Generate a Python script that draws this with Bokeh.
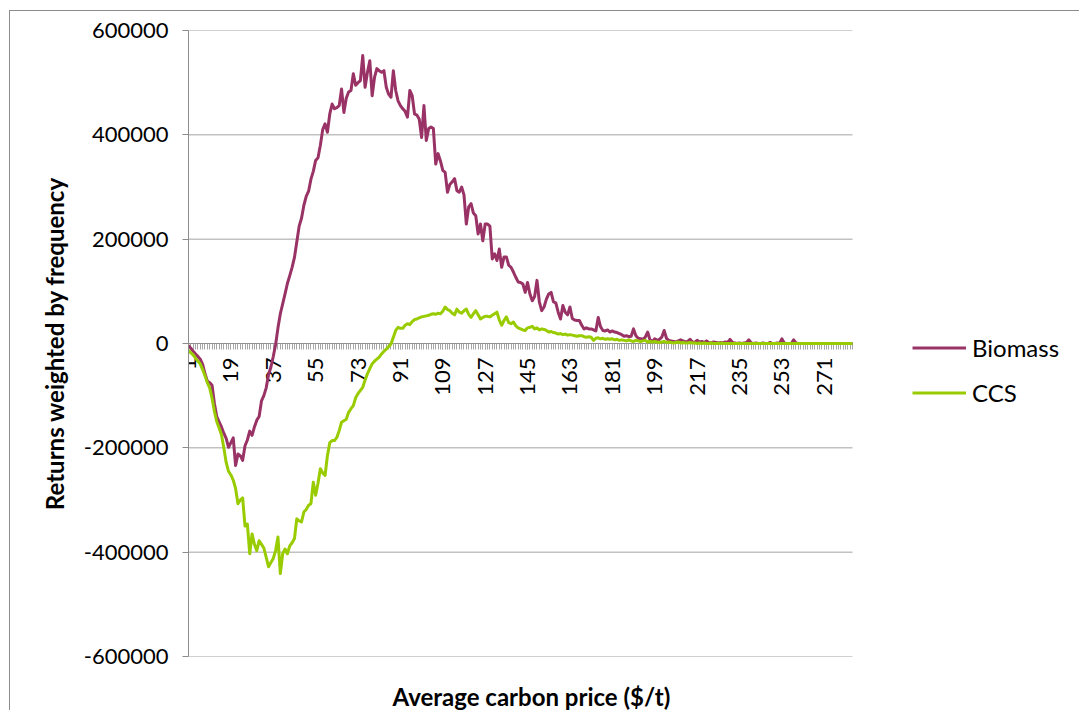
import math
from bokeh.plotting import figure
from bokeh.models import (Range1d, FixedTicker, NumeralTickFormatter, Legend,
                          LegendItem, Title, ColumnDataSource)
from bokeh.embed import file_html
from bokeh.resources import INLINE

# ---------------- data ----------------
prices = list(range(1, 284))                      # average carbon price categories ($/t)
price_labels = [1, 19, 37, 55, 73, 91, 109, 127, 145, 163, 181, 199, 217, 235, 253, 271]
y_ticks = [-600000, -400000, -200000, 0, 200000, 400000, 600000]

biomass = [
    -4000, -9000, -15000, -20000, -25000, -30000, -40000, -58000, -72000, -75000,
    -80000, -115000, -140000, -150000, -160000, -172000, -182000, -199000, -190000, -181000,
    -234000, -212000, -215000, -224000, -196000, -185000, -168000, -176000, -160000, -147000,
    -140000, -110000, -100000, -85000, -60000, -45000, -25000, -2000, 30000, 57000,
    76000, 95000, 115000, 130000, 146000, 165000, 195000, 225000, 240000, 265000,
    282000, 292000, 315000, 330000, 351000, 356000, 380000, 410000, 421000, 405000,
    440000, 459000, 450000, 452000, 456000, 488000, 443000, 470000, 482000, 485000,
    517000, 495000, 500000, 504000, 552000, 491000, 520000, 542000, 475000, 510000,
    527000, 523000, 520000, 523000, 491000, 478000, 472000, 523000, 485000, 465000,
    456000, 450000, 445000, 434000, 485000, 475000, 440000, 438000, 430000, 395000,
    456000, 389000, 412000, 415000, 412000, 344000, 364000, 350000, 332000, 328000,
    290000, 305000, 310000, 316000, 293000, 290000, 300000, 285000, 229000, 262000,
    268000, 250000, 245000, 210000, 229000, 197000, 229000, 229000, 225000, 162000,
    172000, 159000, 181000, 146000, 166000, 166000, 150000, 146000, 137000, 127000,
    118000, 117000, 114000, 98000, 117000, 95000, 82000, 90000, 121000, 80000,
    63000, 70000, 85000, 95000, 98000, 80000, 78000, 60000, 47000, 73000,
    60000, 55000, 70000, 48000, 45000, 44000, 44000, 35000, 28000, 30000,
    28000, 28000, 26000, 24000, 50000, 32000, 25000, 24000, 26000, 22000,
    24000, 22000, 21000, 19000, 17000, 14000, 15000, 13000, 14000, 28000,
    15000, 10000, 9000, 8000, 12000, 22000, 7000, 4000, 9000, 6000,
    8000, 12000, 25000, 10000, 6000, 5000, 4000, 3000, 5000, 7000,
    5000, 3000, 4000, 8000, 3000, 2000, 6000, 3000, 4000, 2000,
    5000, 2000, 1000, 3000, 2000, 1000, 2000, 1000, 3000, 2000,
    8000, 2000, 1000, 0, 1000, 0, 1000, 2000, 7000, 1000,
    0, 1000, 0, 0, 1000, 0, 0, 2000, 0, 0,
    1000, 0, 9000, 1000, 0, 0, 0, 7000, 1000, 0,
    0, 0, 0, 0, 0, 0, 0, 0, 0, 0,
    0, 0, 0, 0, 0, 0, 0, 0, 0, 0,
    0, 0, 0,
]

ccs = [
    -13000, -18000, -22000, -28000, -34000, -39000, -50000, -62000, -75000, -85000,
    -105000, -130000, -150000, -162000, -175000, -200000, -228000, -245000, -252000, -262000,
    -278000, -307000, -300000, -296000, -350000, -346000, -403000, -365000, -385000, -397000,
    -378000, -385000, -392000, -410000, -428000, -420000, -412000, -397000, -371000, -441000,
    -403000, -394000, -403000, -388000, -382000, -374000, -336000, -340000, -342000, -323000,
    -318000, -310000, -307000, -266000, -291000, -268000, -240000, -248000, -253000, -215000,
    -190000, -186000, -186000, -180000, -167000, -151000, -148000, -145000, -132000, -125000,
    -119000, -104000, -96000, -90000, -84000, -70000, -58000, -48000, -39000, -34000,
    -30000, -26000, -20000, -15000, -11000, -6000, -1000, 12000, 25000, 31000,
    29000, 29000, 35000, 38000, 36000, 42000, 46000, 47000, 49000, 51000,
    52000, 53000, 54000, 56000, 57000, 56000, 58000, 57000, 62000, 70000,
    65000, 63000, 58000, 55000, 66000, 60000, 58000, 63000, 66000, 56000,
    50000, 57000, 63000, 55000, 47000, 50000, 52000, 52000, 51000, 54000,
    57000, 60000, 45000, 35000, 44000, 51000, 40000, 38000, 41000, 34000,
    30000, 28000, 26000, 25000, 30000, 31000, 33000, 28000, 30000, 26000,
    28000, 27000, 25000, 22000, 23000, 21000, 20000, 18000, 19000, 17000,
    18000, 16000, 17000, 16000, 15000, 14000, 15000, 15000, 13000, 12000,
    13000, 12000, 6000, 10000, 11000, 9000, 10000, 8000, 9000, 8000,
    9000, 7000, 8000, 6000, 7000, 6000, 5000, 7000, 5000, 4000,
    6000, 5000, 4000, 5000, 6000, 3000, 4000, 3000, 4000, 3000,
    2000, 3000, 4000, 2000, 3000, 2000, 1000, 2000, 3000, 1000,
    2000, 1000, 1000, 2000, 1000, 1000, 0, 1000, 0, 1000,
    0, 0, 1000, 0, 0, 0, 1000, 0, 0, 0,
    0, 0, 0, 0, 0, 0, 0, 0, 0, 0,
    0, 0, 0, 0, 0, 0, 0, 0, 0, 0,
    0, 0, 0, 0, 0, 0, 0, 0, 0, 0,
    0, 0, 0, 0, 0, 0, 0, 0, 0, 0,
    0, 0, 0, 0, 0, 0, 0, 0, 0, 0,
    0, 0, 0,
]

series_names = ["Biomass", "CCS"]
series_colors = ["#993366", "#99CC00"]

# ---------------- layout ----------------
FONT = "Lato"
AXIS_GRAY = "#8c8c8c"
GRID_GRAY = "#a3a3a3"

W, H = 1070, 700
LEFT, TOP, BOTTOM = 178, 19, 55
PLOT_W = 664                     # width of the plotted category area (px)
frame_w = W - LEFT               # frame also hosts the legend on the right
x_end = prices[0] + (prices[-1] - prices[0]) * frame_w / PLOT_W

p = figure(width=W, height=H, output_backend="svg", toolbar_location=None,
           title=None,
           x_range=Range1d(prices[0], x_end),
           y_range=Range1d(y_ticks[0], y_ticks[-1]),
           min_border_left=LEFT, min_border_right=0,
           min_border_top=TOP, min_border_bottom=BOTTOM,
           background_fill_color="white", border_fill_color="white",
           margin=(10, 0, 0, 9),
           styles={"border-top": "1px solid #8c8c8c", "border-left": "1px solid #8c8c8c"})
p.outline_line_color = None
p.xgrid.visible = False
p.ygrid.visible = False

# horizontal gridlines over the category span only
p.segment(x0=[prices[0]] * len(y_ticks), x1=[prices[-1]] * len(y_ticks),
          y0=y_ticks, y1=y_ticks, line_color=GRID_GRAY, line_width=1, level="underlay")

src = ColumnDataSource(dict(price=prices, biomass=biomass, ccs=ccs))
r1 = p.line("price", "biomass", source=src, line_color=series_colors[0],
            line_width=3, line_join="round")
r2 = p.line("price", "ccs", source=src, line_color=series_colors[1],
            line_width=3, line_join="round")

# category axis crossing at y = 0
xa = p.xaxis[0]
xa.fixed_location = 0
xa.bounds = (prices[0], prices[-1])
xa.level = "underlay"
xa.ticker = FixedTicker(ticks=price_labels, minor_ticks=prices)
xa.major_label_orientation = math.pi / 2
xa.axis_line_color = AXIS_GRAY
xa.major_tick_in = 0
xa.major_tick_out = 6
xa.minor_tick_in = 0
xa.minor_tick_out = 6
xa.major_tick_line_color = "#a6a6a6"
xa.minor_tick_line_color = "#a6a6a6"
xa.major_label_text_font = FONT
xa.major_label_text_font_size = "22px"
xa.major_label_text_color = "black"
xa.major_label_standoff = 8

# blank spacer below the frame, then the x axis title
p.add_layout(Title(text=" ", text_font=FONT, text_font_size="12px", standoff=6), "below")
p.add_layout(Title(text="Average carbon price ($/t)", align="left", offset=204,
                   vertical_align="bottom", standoff=0,
                   text_font=FONT, text_font_size="24px", text_font_style="bold",
                   text_color="black"), "below")

ya = p.yaxis[0]
ya.ticker = FixedTicker(ticks=y_ticks)
ya.formatter = NumeralTickFormatter(format="0")
ya.axis_line_color = AXIS_GRAY
ya.major_tick_in = 0
ya.major_tick_out = 6
ya.major_tick_line_color = AXIS_GRAY
ya.minor_tick_line_color = None
ya.major_label_text_font = FONT
ya.major_label_text_font_size = "22px"
ya.major_label_text_color = "black"
ya.major_label_standoff = 14
ya.axis_label = "Returns weighted by frequency"
ya.axis_label_text_font = FONT
ya.axis_label_text_font_size = "24px"
ya.axis_label_text_font_style = "bold"
ya.axis_label_text_color = "black"
ya.axis_label_standoff = 12

legend = Legend(items=[LegendItem(label=series_names[0], renderers=[r1]),
                       LegendItem(label=series_names[1], renderers=[r2])],
                location=(724, 249), border_line_color=None, background_fill_alpha=0,
                padding=0, margin=0, glyph_width=54, glyph_height=29,
                label_height=29, spacing=16, label_standoff=6,
                label_text_font=FONT, label_text_font_size="24px",
                label_text_color="black")
p.add_layout(legend)

open("out.html", "w").write(file_html(p, INLINE))
